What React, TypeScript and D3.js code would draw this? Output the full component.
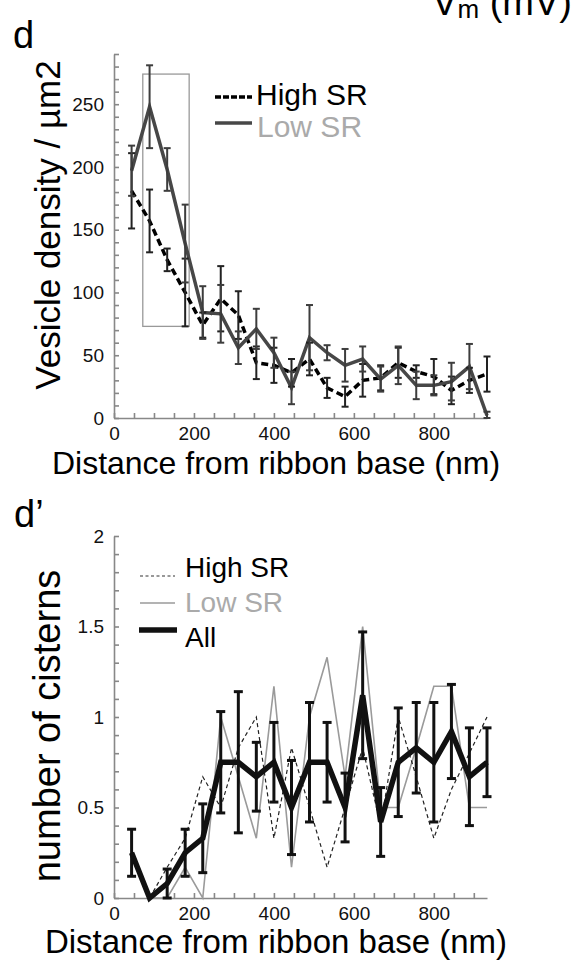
import React, { useEffect, useRef } from 'react';
import * as d3 from 'd3';

// distance bins (nm), shared by both panels
const distances = [44, 89, 133, 178, 222, 267, 311, 356, 400, 444, 489, 533, 578, 622, 667, 711, 756, 800, 844, 889, 933];

// panel d: vesicle density / um2
const highSrDensity = [181, 157, 126, 100, 74, 95, 82, 44, 42, 36, 47, 24, 17, 30, 32, 44, 37, 33, 22, 30, 35];
const highSrDensityErr = [30, 25, 9, 27, 10, 26, 19, 13, 14, 11, 13, 8, 8, 13, 10, 12, 5, 14, 11, 10, 14];
const lowSrDensity = [197, 248, 198, 139, 84, 83, 56, 71, 52, 24, 64, 52, 42, 47, 31, 42, 26, 26, 29, 41, 2];
const lowSrDensityErr = [20, 33, 17, 31, 21, 23, 13, 16, 12, 13, 26, 6, 13, 10, 10, 15, 11, 8, 15, 18, 3];

// panel d': number of cisterns
const highSrCisterns = [0.25, 0, 0.17, 0.33, 0.67, 0.5, 0.83, 1.0, 0.33, 0.83, 0.5, 0.17, 0.5, 0.83, 0.4, 1.0, 0.67, 0.33, 0.6, 0.8, 1.0];
const lowSrCisterns = [0.25, 0, 0, 0.17, 0, 1.0, 0.67, 0.33, 1.17, 0.17, 1.0, 1.33, 0.67, 1.5, 0.5, 0.5, 0.83, 1.17, 1.17, 0.5, 0.5];
const allCisterns = [0.25, 0, 0.08, 0.25, 0.33, 0.75, 0.75, 0.67, 0.75, 0.5, 0.75, 0.75, 0.5, 1.12, 0.42, 0.75, 0.83, 0.75, 0.92, 0.67, 0.75];
const allCisternsErr = [0.13, 0, 0.08, 0.13, 0.19, 0.28, 0.39, 0.19, 0.22, 0.26, 0.33, 0.22, 0.19, 0.35, 0.19, 0.3, 0.25, 0.33, 0.26, 0.27, 0.19];

const xTickLabels = [0, 200, 400, 600, 800];
const densityTickLabels = [0, 50, 100, 150, 200, 250];
const cisternTickLabels = [0, 0.5, 1, 1.5, 2];

// grey box marking the first bins in panel d
const boxDistance = [72, 188];
const boxDensity = [73, 274];

const FONT = '"Liberation Sans", Arial, sans-serif';
const axisColor = '#888';

function drawAxes(g, x, y, minorY, majorY) {
  const y0 = y.range()[0];
  const x0 = x.range()[0];

  g.append('g')
    .attr('transform', `translate(0,${y0})`)
    .call(d3.axisBottom(x).tickValues(d3.range(0, 934, 50)).tickSize(-5).tickSizeOuter(0).tickFormat(() => ''))
    .call(s => s.selectAll('path,line').attr('stroke', axisColor).attr('stroke-width', 1.6));

  g.append('g')
    .attr('transform', `translate(0,${y0})`)
    .call(d3.axisBottom(x).tickValues(xTickLabels).tickSize(0).tickPadding(9))
    .attr('font-size', 19).attr('font-family', FONT)
    .call(s => s.select('.domain').remove())
    .call(s => s.selectAll('text').attr('fill', '#111'));

  g.append('g')
    .attr('transform', `translate(${x0},0)`)
    .call(d3.axisLeft(y).tickValues(minorY).tickSize(-5).tickSizeOuter(0).tickFormat(() => ''))
    .call(s => s.selectAll('path,line').attr('stroke', axisColor).attr('stroke-width', 1.6));

  g.append('g')
    .attr('transform', `translate(${x0},0)`)
    .call(d3.axisLeft(y).tickValues(majorY).tickSize(0).tickPadding(10).tickFormat(d3.format('')))
    .attr('font-size', 19).attr('font-family', FONT)
    .call(s => s.select('.domain').remove())
    .call(s => s.selectAll('text').attr('fill', '#111'));
}

function errorBars(g, x, y, vals, errs, color, width, cap) {
  const bars = g.append('g').attr('stroke', color).attr('stroke-width', width);
  vals.forEach((v, i) => {
    if (!errs[i]) return;
    const cx = x(distances[i]);
    const top = y(v + errs[i]);
    const bot = y(Math.max(0, v - errs[i]));
    bars.append('line').attr('x1', cx).attr('x2', cx).attr('y1', top).attr('y2', bot);
    bars.append('line').attr('x1', cx - cap).attr('x2', cx + cap).attr('y1', top).attr('y2', top);
    bars.append('line').attr('x1', cx - cap).attr('x2', cx + cap).attr('y1', bot).attr('y2', bot);
  });
}

function label(svg, txt, x, y, size, opts = {}) {
  const t = svg.append('text')
    .attr('x', x).attr('y', y)
    .attr('font-size', size).attr('font-family', FONT)
    .attr('fill', opts.fill || '#000')
    .attr('text-anchor', opts.anchor || 'start')
    .text(txt);
  if (opts.rotate) t.attr('transform', `rotate(-90, ${x}, ${y})`);
  return t;
}

const App = () => {
  const svgRef = useRef(null);

  useEffect(() => {
    const svg = d3.select(svgRef.current);
    svg.selectAll('*').remove();

    // ---------- panel d ----------
    const x = d3.scaleLinear().domain([0, 933]).range([114, 487]);
    const yD = d3.scaleLinear().domain([0, 290]).range([418, 54]);
    const gD = svg.append('g');

    drawAxes(gD, x, yD, d3.range(0, 291, 10), densityTickLabels);

    gD.append('rect')
      .attr('x', x(boxDistance[0]))
      .attr('y', yD(boxDensity[1]))
      .attr('width', x(boxDistance[1]) - x(boxDistance[0]))
      .attr('height', yD(boxDensity[0]) - yD(boxDensity[1]))
      .attr('fill', 'none').attr('stroke', '#999').attr('stroke-width', 1.3);

    const lineD = d3.line().x((d, i) => x(distances[i])).y(d => yD(d));

    gD.append('path').datum(highSrDensity).attr('d', lineD)
      .attr('fill', 'none').attr('stroke', '#000').attr('stroke-width', 3.5).attr('stroke-dasharray', '7,4');
    gD.append('path').datum(lowSrDensity).attr('d', lineD)
      .attr('fill', 'none').attr('stroke', '#474747').attr('stroke-width', 3.5);

    errorBars(gD, x, yD, highSrDensity, highSrDensityErr, '#222', 2, 3.5);
    errorBars(gD, x, yD, lowSrDensity, lowSrDensityErr, '#3d3d3d', 2, 3.5);

    // legend d
    gD.append('line').attr('x1', 215).attr('x2', 252).attr('y1', 97).attr('y2', 97)
      .attr('stroke', '#000').attr('stroke-width', 3.5).attr('stroke-dasharray', '6,2');
    gD.append('line').attr('x1', 215).attr('x2', 252).attr('y1', 123).attr('y2', 123)
      .attr('stroke', '#474747').attr('stroke-width', 3.5);
    label(svg, 'High SR', 256, 105, 30);
    label(svg, 'Low SR', 257, 137, 30, { fill: '#aaa' });

    label(svg, 'Distance from ribbon base (nm)', 276, 474, 32, { anchor: 'middle' });
    label(svg, 'Vesicle density / µm2', 60, 225, 35, { anchor: 'middle', rotate: true });
    label(svg, 'd', 13, 48, 38);

    const vm = svg.append('text').attr('x', 572).attr('y', 15).attr('text-anchor', 'end')
      .attr('font-family', FONT).attr('font-size', 38);
    vm.append('tspan').text('V');
    vm.append('tspan').attr('font-size', 26).attr('dy', 3).text('m');
    vm.append('tspan').attr('dy', -3).text(' (mV)');

    // ---------- panel d' ----------
    const yC = d3.scaleLinear().domain([0, 2]).range([898, 536]);
    const gC = svg.append('g');

    drawAxes(gC, x, yC, d3.range(0, 2.001, 0.1), cisternTickLabels);

    const lineC = d3.line().x((d, i) => x(distances[i])).y(d => yC(d));

    gC.append('path').datum(lowSrCisterns).attr('d', lineC)
      .attr('fill', 'none').attr('stroke', '#9a9a9a').attr('stroke-width', 1.6);
    gC.append('path').datum(highSrCisterns).attr('d', lineC)
      .attr('fill', 'none').attr('stroke', '#222').attr('stroke-width', 1.2).attr('stroke-dasharray', '4,3');
    gC.append('path').datum(allCisterns).attr('d', lineC)
      .attr('fill', 'none').attr('stroke', '#111').attr('stroke-width', 5.5);
    errorBars(gC, x, yC, allCisterns, allCisternsErr, '#111', 3, 4.5);

    // legend d'
    gC.append('line').attr('x1', 140).attr('x2', 175).attr('y1', 576).attr('y2', 576)
      .attr('stroke', '#333').attr('stroke-width', 1.2).attr('stroke-dasharray', '3,2.5');
    gC.append('line').attr('x1', 140).attr('x2', 175).attr('y1', 603).attr('y2', 603)
      .attr('stroke', '#9a9a9a').attr('stroke-width', 1.6);
    gC.append('line').attr('x1', 139).attr('x2', 177).attr('y1', 630).attr('y2', 630)
      .attr('stroke', '#111').attr('stroke-width', 5.5);
    label(svg, 'High SR', 185, 577, 28);
    label(svg, 'Low SR', 185, 612, 28, { fill: '#aaa' });
    label(svg, 'All', 185, 647, 28);

    label(svg, 'Distance from ribbon base (nm)', 276, 953, 33, { anchor: 'middle' });
    label(svg, 'number of cisterns', 60, 726, 38, { anchor: 'middle', rotate: true });
    label(svg, 'd’', 14, 527, 38);
  }, []);

  return (
    <svg
      ref={svgRef}
      width={581}
      height={961}
      style={{ position: 'absolute', left: 0, top: 0, background: '#fff' }}
    />
  );
};

export default App;
